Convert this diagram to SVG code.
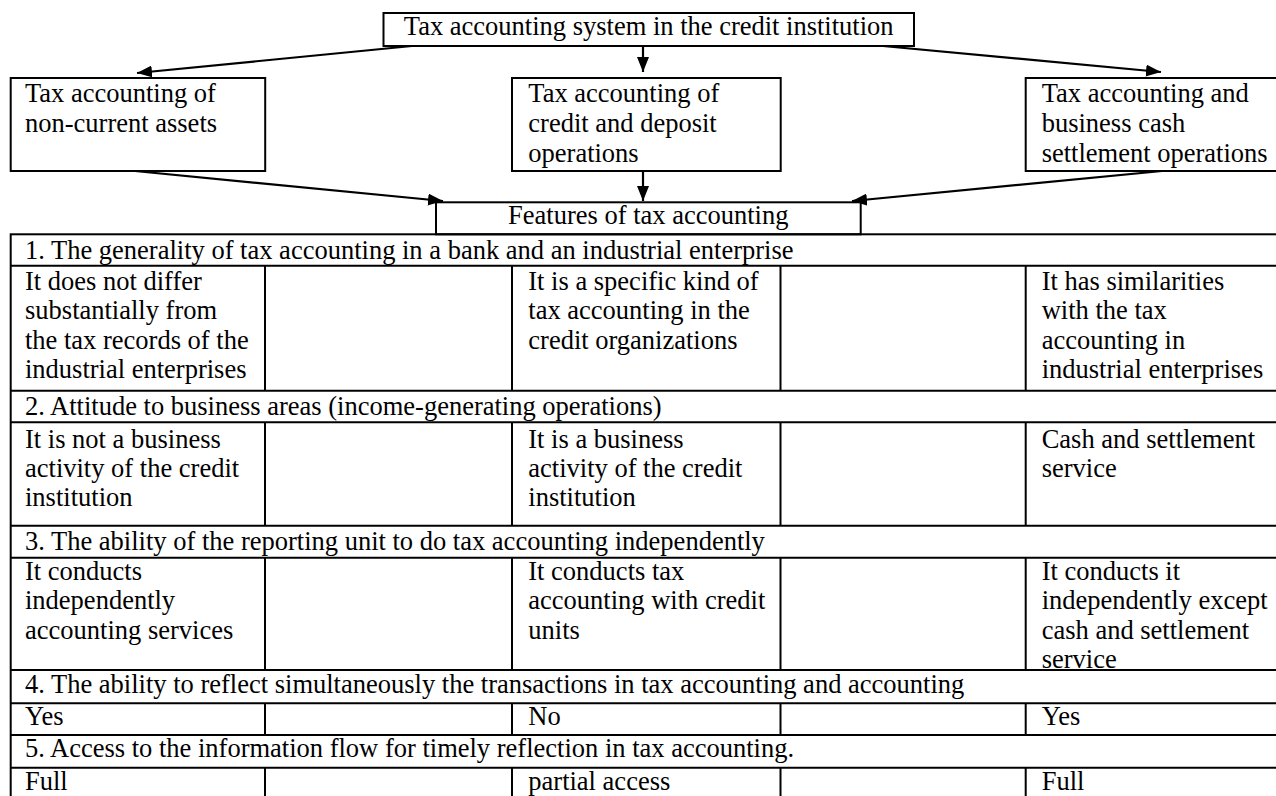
<svg xmlns="http://www.w3.org/2000/svg" width="1276" height="796" viewBox="0 0 1276 796">
<style>
.box{fill:#fff;stroke:#000;stroke-width:2}
.ln{stroke:#000;stroke-width:2;fill:none}
.conn{stroke:#000;stroke-width:2.2;fill:none}
</style>
<defs>
<marker id="ah" markerUnits="userSpaceOnUse" markerWidth="16" markerHeight="12" refX="15" refY="6" orient="auto">
<path d="M0,0 L15,6 L0,12 z" fill="#000"/>
</marker>
</defs>
<rect width="1276" height="796" fill="#fff"/>

<g id="connectors">
<line class="conn" marker-end="url(#ah)" x1="412" y1="46" x2="137" y2="73"/>
<line class="conn" marker-end="url(#ah)" x1="643" y1="46" x2="643" y2="72"/>
<line class="conn" marker-end="url(#ah)" x1="883" y1="46" x2="1161" y2="72"/>
<line class="conn" marker-end="url(#ah)" x1="135" y1="171" x2="443" y2="201"/>
<line class="conn" marker-end="url(#ah)" x1="643" y1="171" x2="643" y2="201"/>
<line class="conn" marker-end="url(#ah)" x1="1162" y1="171" x2="852" y2="201"/>
</g>

<g font-family="'Liberation Serif', 'Times New Roman', serif" font-size="26.5" fill="#000">
<g id="node-system">
<rect class="box" x="383.5" y="13" width="530.5" height="33"/>
<text x="648.7" y="35" text-anchor="middle">Tax accounting system in the credit institution</text>
</g>

<g id="node-noncurrent">
<rect class="box" x="10.7" y="78" width="254.5" height="93"/>
<text x="25" y="101.7">Tax accounting of</text>
<text x="25" y="131.7">non-current assets</text>
</g>

<g id="node-credit">
<rect class="box" x="512" y="78" width="268.7" height="93"/>
<text x="528.3" y="101.7">Tax accounting of</text>
<text x="528.3" y="131.7">credit and deposit</text>
<text x="528.3" y="161.7">operations</text>
</g>

<g id="node-cash">
<rect class="box" x="1025.7" y="78" width="260" height="93"/>
<text x="1041.7" y="101.7">Tax accounting and</text>
<text x="1041.7" y="131.7">business cash</text>
<text x="1041.7" y="161.7">settlement operations</text>
</g>

<g id="node-features">
<rect class="box" x="436" y="202.3" width="424.7" height="32"/>
<text x="648.3" y="224" text-anchor="middle">Features of tax accounting</text>
</g>

<g id="node-table">
<rect class="ln" x="10.7" y="234.3" width="1275" height="580"/>
<line class="ln" x1="10.7" y1="265.7" x2="1286" y2="265.7"/>
<line class="ln" x1="10.7" y1="390.7" x2="1286" y2="390.7"/>
<line class="ln" x1="10.7" y1="422.3" x2="1286" y2="422.3"/>
<line class="ln" x1="10.7" y1="525.7" x2="1286" y2="525.7"/>
<line class="ln" x1="10.7" y1="557.7" x2="1286" y2="557.7"/>
<line class="ln" x1="10.7" y1="670" x2="1286" y2="670"/>
<line class="ln" x1="10.7" y1="703.3" x2="1286" y2="703.3"/>
<line class="ln" x1="10.7" y1="735" x2="1286" y2="735"/>
<line class="ln" x1="10.7" y1="767.7" x2="1286" y2="767.7"/>
<path class="ln" d="M265,265.7V390.7M512,265.7V390.7M780.5,265.7V390.7M1025.7,265.7V390.7"/>
<path class="ln" d="M265,422.3V525.7M512,422.3V525.7M780.5,422.3V525.7M1025.7,422.3V525.7"/>
<path class="ln" d="M265,557.7V670M512,557.7V670M780.5,557.7V670M1025.7,557.7V670"/>
<path class="ln" d="M265,703.3V735M512,703.3V735M780.5,703.3V735M1025.7,703.3V735"/>
<path class="ln" d="M265,767.7V800M512,767.7V800M780.5,767.7V800M1025.7,767.7V800"/>

<text x="25" y="259.3">1. The generality of tax accounting in a bank and an industrial enterprise</text>
<text x="25" y="290">It does not differ</text>
<text x="25" y="319.3">substantially from</text>
<text x="25" y="348.6">the tax records of the</text>
<text x="25" y="378">industrial enterprises</text>
<text x="528.3" y="290">It is a specific kind of</text>
<text x="528.3" y="319.3">tax accounting in the</text>
<text x="528.3" y="348.6">credit organizations</text>
<text x="1041.7" y="290">It has similarities</text>
<text x="1041.7" y="319.3">with the tax</text>
<text x="1041.7" y="348.6">accounting in</text>
<text x="1041.7" y="378">industrial enterprises</text>

<text x="25" y="415">2. Attitude to business areas (income-generating operations)</text>
<text x="25" y="447.7">It is not a business</text>
<text x="25" y="476.7">activity of the credit</text>
<text x="25" y="505.7">institution</text>
<text x="528.3" y="447.7">It is a business</text>
<text x="528.3" y="476.7">activity of the credit</text>
<text x="528.3" y="505.7">institution</text>
<text x="1041.7" y="447.7">Cash and settlement</text>
<text x="1041.7" y="476.7">service</text>

<text x="25" y="550">3. The ability of the reporting unit to do tax accounting independently</text>
<text x="25" y="580">It conducts</text>
<text x="25" y="609.3">independently</text>
<text x="25" y="638.6">accounting services</text>
<text x="528.3" y="580">It conducts tax</text>
<text x="528.3" y="609.3">accounting with credit</text>
<text x="528.3" y="638.6">units</text>
<text x="1041.7" y="580">It conducts it</text>
<text x="1041.7" y="609.3">independently except</text>
<text x="1041.7" y="638.6">cash and settlement</text>
<text x="1041.7" y="667.9">service</text>

<text x="25" y="693.3">4. The ability to reflect simultaneously the transactions in tax accounting and accounting</text>
<text x="25" y="725">Yes</text>
<text x="528.3" y="725">No</text>
<text x="1041.7" y="725">Yes</text>

<text x="25" y="756.7">5. Access to the information flow for timely reflection in tax accounting.</text>
<text x="25" y="790">Full</text>
<text x="528.3" y="790">partial access</text>
<text x="1041.7" y="790">Full</text>
</g>
</g>
</svg>
